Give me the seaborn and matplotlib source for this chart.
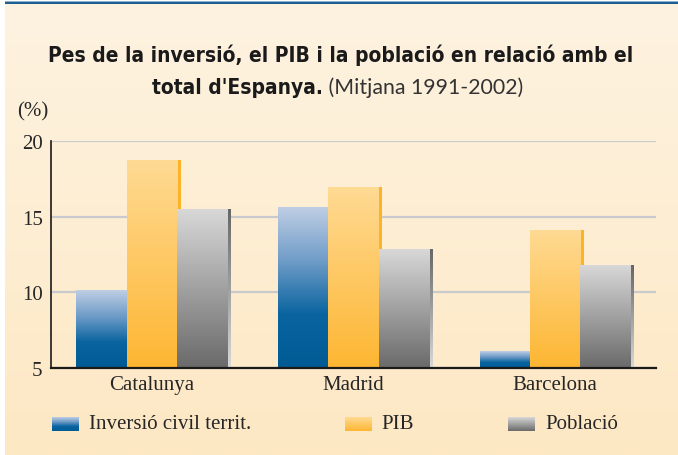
import numpy as np
import pandas as pd
import matplotlib
matplotlib.use("Agg")
import matplotlib.pyplot as plt
import seaborn as sns
from matplotlib.colors import LinearSegmentedColormap
from matplotlib import font_manager
from matplotlib.font_manager import FontProperties

# ---- data ----
regions = ["Catalunya", "Madrid", "Barcelona"]
series = ["Inversió civil territ.", "PIB", "Població"]
inversio = [10.1, 15.6, 6.1]
pib = [18.7, 16.9, 14.1]
poblacio = [15.5, 12.8, 11.8]
yticks = [5, 10, 15, 20]

df = pd.DataFrame({
    "regio": regions * 3,
    "serie": np.repeat(series, len(regions)),
    "valor": inversio + pib + poblacio,
})

# ---- fonts ----
sns.set_style("white")
serif = "Liberation Serif"
plt.rcParams["font.family"] = [serif, "DejaVu Serif"]


def _weight(f):
    w = f.weight
    if isinstance(w, str):
        return {"bold": 700, "heavy": 800, "black": 900, "semibold": 600,
                "demibold": 600, "extra bold": 800}.get(w.lower(), 400)
    return int(w)


def _is_condensed(f):
    s = f.stretch
    if isinstance(s, str):
        return "condensed" in s.lower() or "narrow" in f.name.lower()
    return s < 500


def pick_title_font():
    fonts = font_manager.fontManager.ttflist
    cond_bold = [f for f in fonts if _is_condensed(f) and _weight(f) >= 700
                 and "italic" not in f.style.lower() and "oblique" not in f.style.lower()]
    if cond_bold:
        return FontProperties(fname=cond_bold[0].fname)
    return FontProperties(family="Lato", weight="heavy")


title_bold = pick_title_font()
title_regular = FontProperties(family="Lato", weight="normal")

face = {  # vertical gradient stops, top to bottom
    "Inversió civil territ.": ["#bfcee4", "#6f9cc8", "#0a64a0", "#005a94"],
    "PIB": ["#ffda93", "#fdb632"],
    "Població": ["#d8d8d8", "#6a6a6a"],
}
side = {
    "Inversió civil territ.": ["#2a6aa0", "#8fb0d4"],
    "PIB": ["#fbb42a", "#fbb42a"],
    "Població": ["#666666", "#d9d9d9"],
}
base_colors = ["#3f7fb5", "#fec65c", "#9e9e9e"]
text_col = "#262626"

W, H = 678, 456
fig = plt.figure(figsize=(W / 100, H / 100), dpi=100, facecolor="white")

# page background with soft cream gradient and blue top rule
bg = fig.add_axes([0, 0, 1, 1], zorder=-10)
bg.set_axis_off()
grad = np.linspace(0, 1, 256)[:, None]
bg.imshow(grad, cmap=LinearSegmentedColormap.from_list("bg", ["#fef3e1", "#fde8c4"]),
          extent=[5, W, H, 5], origin="upper", aspect="auto")
bg.add_patch(plt.Rectangle((5, 2.2), W - 5, 1.4, color="#8fb2cf", lw=0))
bg.add_patch(plt.Rectangle((5, 3.4), W - 5, 1.8, color="#1c5e91", lw=0))

# main plot area
ax = fig.add_axes([51 / W, (H - 369) / H, 605 / W, (369 - 142) / H])
ax.patch.set_alpha(0)
sns.barplot(data=df, x="regio", y="valor", hue="serie", hue_order=series,
            order=regions, palette=base_colors, saturation=1, width=0.75,
            legend=False, ax=ax)

ymin, ymax = yticks[0], yticks[-1]
strip = 3.0 / (605 / 3)  # 3 px side face in data units
for i, (name, cont) in enumerate(zip(series, ax.containers)):
    cmap_f = LinearSegmentedColormap.from_list(f"f{i}", face[name])
    cmap_s = LinearSegmentedColormap.from_list(f"s{i}", side[name])
    for p in cont.patches:
        x0, w, top = p.get_x(), p.get_width(), p.get_height()
        p.set_visible(False)
        z = 2 + i
        ax.imshow(grad, cmap=cmap_s, extent=[x0 + w - 0.5 * strip, x0 + w + strip, ymin, top],
                  origin="upper", aspect="auto", zorder=z)
        ax.imshow(grad, cmap=cmap_f, extent=[x0, x0 + w, ymin, top],
                  origin="upper", aspect="auto", zorder=z + 0.1)

ax.set_xlim(-0.5, len(regions) - 0.5)
ax.set_ylim(ymin, ymax)
ax.set_yticks(yticks)
ax.set_yticks(np.arange(ymin, ymax + 1, 1), minor=True)
ax.yaxis.grid(True, which="major", color="#c8cacd", lw=1.6)
ax.set_axisbelow(True)
ax.set_xlabel("")
ax.set_ylabel("")
for s in ("top", "right"):
    ax.spines[s].set_visible(False)
ax.spines["left"].set_color("#1a1a1a")
ax.spines["left"].set_linewidth(1.2)
ax.spines["bottom"].set_color("#1a1a1a")
ax.spines["bottom"].set_linewidth(1.6)
ax.spines["bottom"].set_zorder(10)
ax.tick_params(axis="y", which="major", length=0, pad=6, labelsize=15, labelcolor=text_col)
ax.tick_params(axis="y", which="minor", length=3, width=0.8, color="#9a9a9a", direction="in")
ax.tick_params(axis="x", length=0, pad=5, labelsize=15, labelcolor=text_col)

# unit label
fig.text(17 / W, 1 - 112 / H, "(%)", fontsize=15, color=text_col, va="center", ha="left")

# title: bold first line, mixed bold/regular second line
title1 = "Pes de la inversió, el PIB i la població en relació amb el"
title2b = "total d'Espanya."
title2r = " (Mitjana 1991-2002)"
tcol = "#1a1a1a"
r = fig.canvas.get_renderer()

t1 = fig.text(341 / W, 1 - 62 / H, title1, fontproperties=title_bold, fontsize=17,
              color=tcol, ha="center", va="baseline")
w1 = t1.get_window_extent(r).width
bold_size = 17 * 582 / w1
t1.set_fontsize(bold_size)

tb = fig.text(0, 1 - 94 / H, title2b, fontproperties=title_bold, fontsize=bold_size,
              color=tcol, ha="left", va="baseline")
tr = fig.text(0, 1 - 94 / H, title2r, fontproperties=title_regular, fontsize=16,
              color="#333333", ha="left", va="baseline")
wr = tr.get_window_extent(r).width
tr.set_fontsize(16 * 200 / wr)
wb = tb.get_window_extent(r).width
wr = tr.get_window_extent(r).width
start = 338 - (wb + wr) / 2
tb.set_x(start / W)
tr.set_x((start + wb) / W)

# legend with gradient swatches
legend_x = [(52, 89), (345, 381), (508, 545)]
for (sx, tx), name in zip(legend_x, series):
    cmap_f = LinearSegmentedColormap.from_list("lg" + name, face[name])
    bg.imshow(grad, cmap=cmap_f, extent=[sx, sx + 27, 432, 418], origin="upper",
              aspect="auto", zorder=3)
    fig.text(tx / W, 1 - 425 / H, name, fontsize=15, color=text_col, ha="left", va="center")
bg.set_xlim(0, W)
bg.set_ylim(H, 0)

fig.savefig("out.png", dpi=100, facecolor="white")
